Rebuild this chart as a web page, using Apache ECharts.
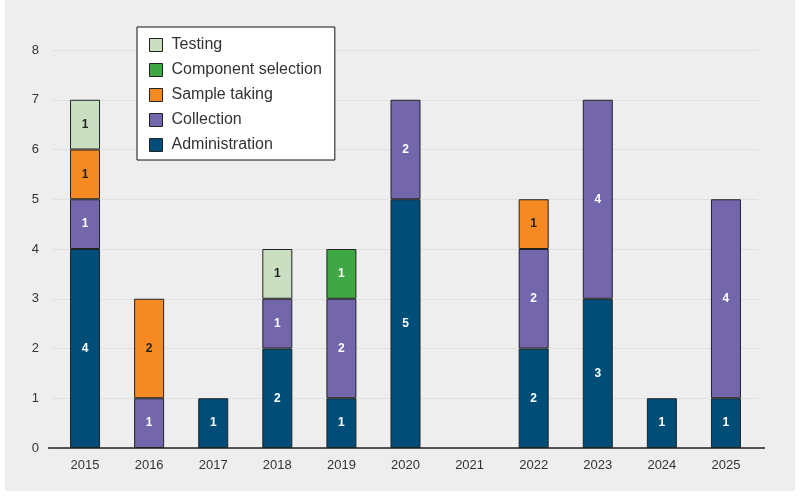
<!DOCTYPE html>
<html>
<head>
<meta charset="utf-8">
<script src="https://cdn.jsdelivr.net/npm/echarts@6/dist/echarts.min.js"></script>
<style>
  html, body { margin: 0; padding: 0; background: #fff; }
  #chart { width: 802px; height: 497px; }
</style>
</head>
<body>
<div id="chart"></div>
<script>
// data (null = no segment)
const years = ["2015", "2016", "2017", "2018", "2019", "2020", "2021", "2022", "2023", "2024", "2025"];
const administration = [4, null, 1, 2, 1, 5, null, 2, 3, 1, 1];
const collection = [1, 1, null, 1, 2, 2, null, 2, 4, null, 4];
const sampleTaking = [1, 2, null, null, null, null, null, 1, null, null, null];
const componentSelection = [null, null, null, null, 1, null, null, null, null, null, null];
const testing = [1, null, null, 1, null, null, null, null, null, null, null];
const yTicks = [0, 1, 2, 3, 4, 5, 6, 7, 8];

const chart = echarts.init(document.getElementById("chart"));

function bar(name, data, color, labelColor) {
  return {
    name: name,
    type: "bar",
    stack: "total",
    data: data,
    barWidth: 30,
    itemStyle: { color: color, borderColor: "#222", borderWidth: 1 },
    label: {
      show: true,
      position: "inside",
      color: labelColor,
      fontWeight: "bold",
      fontSize: 12,
      fontFamily: "Liberation Sans, Arial, sans-serif",
    },
  };
}

chart.setOption({
  animation: false,
  textStyle: { fontFamily: "Liberation Sans, Arial, sans-serif" },
  graphic: [
    {
      type: "rect",
      z: -10,
      shape: { x: 5, y: 0, width: 790, height: 491 },
      style: { fill: "#eeeeee" },
    },
    {
      type: "line",
      z: 10,
      shape: { x1: 48, y1: 448, x2: 765, y2: 448 },
      style: { stroke: "#222", lineWidth: 1.5 },
    },
  ],
  grid: { left: 53, right: 44, top: 50, bottom: 49 },
  legend: {
    orient: "vertical",
    left: 137,
    top: 27,
    padding: [10, 13, 7, 12],
    backgroundColor: "#fff",
    borderColor: "#111",
    borderWidth: 1,
    itemWidth: 13,
    itemHeight: 13,
    itemGap: 9,
    icon: "rect",
    itemStyle: { borderColor: "#222", borderWidth: 1 },
    textStyle: { fontSize: 16, lineHeight: 16, color: "#333", padding: [0, 0, 0, 4] },
    data: ["Testing", "Component selection", "Sample taking", "Collection", "Administration"],
  },
  xAxis: {
    type: "category",
    data: years,
    axisLine: { show: false },
    axisTick: { show: false },
    axisLabel: { color: "#333", fontSize: 13, margin: 11 },
  },
  yAxis: {
    type: "value",
    min: 0,
    max: 8,
    interval: 1,
    axisLine: { show: false },
    axisTick: { show: false },
    axisLabel: {
      color: "#333",
      fontSize: 13,
      margin: 14,
      formatter: (v) => (yTicks.includes(v) ? String(v) : ""),
    },
    splitLine: { lineStyle: { color: "#e0e0e0", width: 1 } },
  },
  series: [
    bar("Administration", administration, "#004d78", "#fff"),
    bar("Collection", collection, "#7366ab", "#fff"),
    bar("Sample taking", sampleTaking, "#f68a22", "#222"),
    bar("Component selection", componentSelection, "#3fa845", "#fff"),
    bar("Testing", testing, "#cadfc2", "#222"),
  ],
});
</script>
</body>
</html>
